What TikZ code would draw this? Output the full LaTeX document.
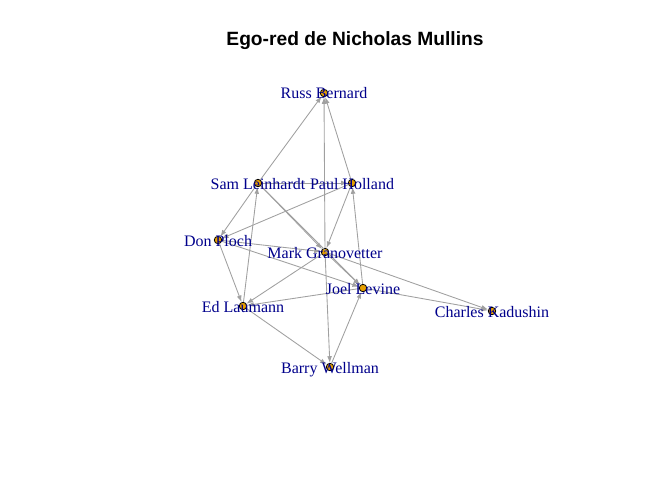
\documentclass[tikz,border=0pt]{standalone}
\usepackage{fontspec}
\setmainfont{Liberation Serif}
\newfontfamily\titlefont{Liberation Sans}
\usepackage{tikz}
\usetikzlibrary{arrows.meta}

\definecolor{vorange}{HTML}{E69F00}
\definecolor{edgegrey}{HTML}{A0A0A0}
\definecolor{labblue}{HTML}{00008B}

\begin{document}
\begin{tikzpicture}[
		x=0.75pt,y=-0.75pt,
		vtx/.style={circle,draw=black,fill=vorange,line width=0.6pt,minimum size=5.6pt,inner sep=0pt},
		lab/.style={text=labblue,font=\fontsize{12}{14}\selectfont,anchor=mid,yshift=-2.2pt,inner sep=0pt},
		tie/.style={draw=edgegrey,line width=0.65pt,-{Latex[length=5pt,width=3.6pt]}}]
		\useasboundingbox (0,0) rectangle (672,480);

		\node[font=\titlefont\bfseries\fontsize{14.4}{17}\selectfont] (title) at (355,41) {Ego-red de Nicholas Mullins};

		\node[vtx] (russ)    at (324,93)  {};
		\node[vtx] (sam)     at (258,183) {};
		\node[vtx] (paul)    at (352,183) {};
		\node[vtx] (don)     at (218,240) {};
		\node[vtx] (mark)    at (325,252) {};
		\node[vtx] (joel)    at (363,288) {};
		\node[vtx] (ed)      at (243,306) {};
		\node[vtx] (charles) at (492,311) {};
		\node[vtx] (barry)   at (330,367) {};


		\draw[tie] (sam) -- (russ);
		\draw[tie] (mark) -- (russ);
		\draw[tie] (paul) -- (russ);
		\draw[tie] (sam) -- (paul);
		\draw[tie] (paul) -- (don);
		\draw[tie] (sam) -- (don);
		\draw[tie] (ed) -- (sam);
		\draw[tie] (sam) -- (mark);
		\draw[tie] (sam) -- (joel);
		\draw[tie] (paul) -- (mark);
		\draw[tie] (joel) -- (paul);
		\draw[tie] (don) -- (mark);
		\draw[tie] (don) -- (joel);
		\draw[tie] (don) -- (ed);
		\draw[tie] (mark) -- (ed);
		\draw[tie] (mark) -- (joel);
		\draw[tie] (joel) -- (ed);
		\draw[tie] (ed) -- (barry);
		\draw[tie] (mark) -- (barry);
		\draw[tie] (barry) -- (joel);
		\draw[tie] (joel) -- (charles);
		\draw[tie] (mark) -- (charles);

		\node[lab] (russ-t)    at (russ)    {Russ Bernard};
		\node[lab] (sam-t)     at (sam)     {Sam Leinhardt};
		\node[lab] (paul-t)    at (paul)    {Paul Holland};
		\node[lab] (don-t)     at (don)     {Don Ploch};
		\node[lab] (mark-t)    at (mark)    {Mark Granovetter};
		\node[lab] (joel-t)    at (joel)    {Joel Levine};
		\node[lab] (ed-t)      at (ed)      {Ed Laumann};
		\node[lab] (charles-t) at (charles) {Charles Kadushin};
		\node[lab] (barry-t)   at (barry)   {Barry Wellman};
\end{tikzpicture}
\end{document}
